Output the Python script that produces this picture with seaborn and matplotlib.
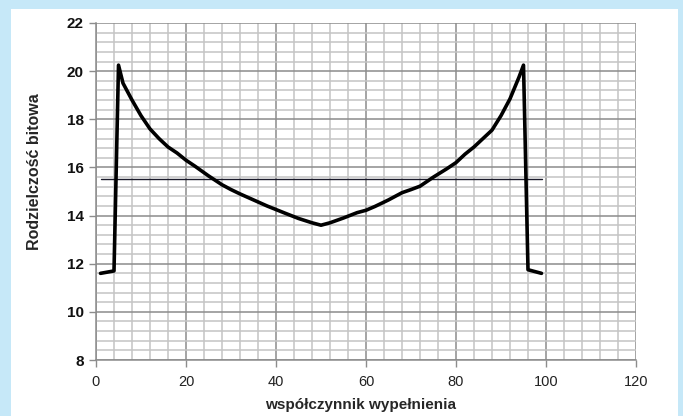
import numpy as np
import pandas as pd
import seaborn as sns
import matplotlib.pyplot as plt
from matplotlib.patches import Rectangle
from matplotlib.ticker import MultipleLocator

# wartości
wypelnienie = [1, 4, 5, 6, 7, 8, 10, 12, 14, 16, 18, 20, 22, 25, 28, 30, 32, 35,
               38, 40, 42, 45, 48, 50, 52, 55, 58, 60, 62, 65, 68, 70, 72, 75,
               78, 80, 82, 84, 86, 88, 90, 92, 94, 95, 96, 99]
rozdzielczosc = [11.6, 11.7, 20.25, 19.5, 19.15, 18.8, 18.15, 17.6, 17.2, 16.85,
                 16.6, 16.3, 16.05, 15.65, 15.28, 15.08, 14.9, 14.65, 14.4, 14.25,
                 14.1, 13.88, 13.7, 13.6, 13.7, 13.9, 14.12, 14.22, 14.38, 14.65,
                 14.95, 15.08, 15.22, 15.6, 15.95, 16.2, 16.55, 16.85, 17.2, 17.55,
                 18.15, 18.85, 19.75, 20.25, 11.75, 11.6]
prog_x = [1, 99]
prog_y = [15.5, 15.5]

df = pd.DataFrame({"x": wypelnienie, "y": rozdzielczosc})
df_prog = pd.DataFrame({"x": prog_x, "y": prog_y})

sns.set_style("white")
plt.rcParams["font.family"] = ["Liberation Sans", "DejaVu Sans"]

fig = plt.figure(figsize=(6.83, 4.16), dpi=100, facecolor="#c6e8f8")
fig.patches.append(Rectangle((11 / 683, 0), (678 - 11) / 683, 1 - 9 / 416,
                             transform=fig.transFigure, facecolor="white",
                             edgecolor="none", zorder=-10))

ax = fig.add_axes([96 / 683, 1 - 360 / 416, 540 / 683, 337 / 416])
ax.set_zorder(5)
ax.set_facecolor("white")

sns.lineplot(data=df, x="x", y="y", ax=ax, color="black", linewidth=2.6,
             sort=False, zorder=4)
sns.lineplot(data=df_prog, x="x", y="y", ax=ax, color="#1a1a2a", linewidth=1.0,
             zorder=3)

ax.set_xlim(0, 120)
ax.set_ylim(8, 22)
ax.xaxis.set_major_locator(MultipleLocator(20))
ax.xaxis.set_minor_locator(MultipleLocator(4))
ax.yaxis.set_major_locator(MultipleLocator(2))
ax.yaxis.set_minor_locator(MultipleLocator(0.4))

ax.grid(which="minor", color="#c4c4c4", linewidth=1.1)
ax.grid(which="major", color="#8c8c8c", linewidth=1.1)
ax.set_axisbelow(True)

for s in ["top", "right"]:
    ax.spines[s].set_visible(False)
for s in ["left", "bottom"]:
    ax.spines[s].set_color("#8c8c8c")
    ax.spines[s].set_linewidth(1.1)

ax.tick_params(axis="both", which="major", length=5, width=1.0, color="#8c8c8c",
               direction="out", bottom=True, left=True)
ax.tick_params(axis="both", which="minor", length=0)
ax.tick_params(axis="y", labelsize=11, pad=4, labelcolor="#111111")
ax.tick_params(axis="x", labelsize=10.5, pad=6, labelcolor="#222222")
for lab in ax.get_yticklabels():
    lab.set_fontweight("bold")

ax.set_xlabel("współczynnik wypełnienia", fontsize=11, fontweight="bold")
ax.set_ylabel("Rodzielczość bitowa", fontsize=11.5, fontweight="bold")
ax.xaxis.set_label_coords(0.489, -0.112)
ax.yaxis.set_label_coords(-0.1, 0.56)

fig.savefig("out.png", dpi=100, facecolor=fig.get_facecolor())
